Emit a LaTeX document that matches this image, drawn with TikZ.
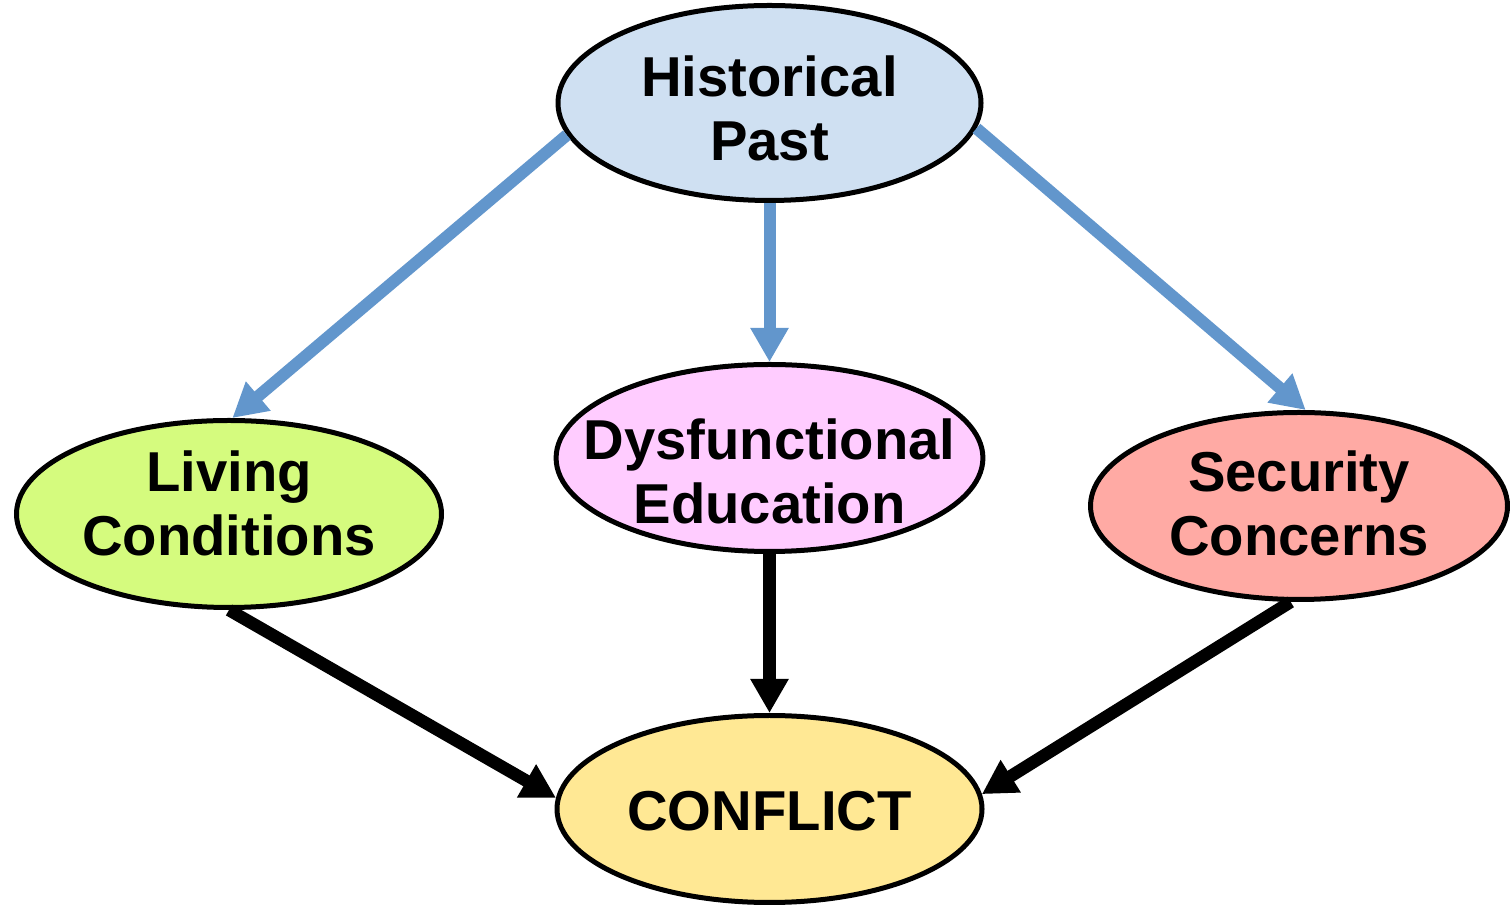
\documentclass[tikz,border=0pt]{standalone}
\usepackage{fontspec}
\setmainfont{Liberation Sans}
\usetikzlibrary{shapes.geometric,arrows.meta}

\definecolor{histblue}{RGB}{207,224,242}
\definecolor{livgreen}{RGB}{213,251,126}
\definecolor{dyspink}{RGB}{255,204,255}
\definecolor{secred}{RGB}{255,170,164}
\definecolor{confyellow}{RGB}{255,232,148}
\definecolor{arrowblue}{RGB}{98,150,204}

% text of an ellipse, moved up or down by #1
\newcommand{\ellipsetext}[2]{\raisebox{#1}[0pt][0pt]{\begin{tabular}{@{}c@{}}#2\end{tabular}}}

\tikzset{
    factor/.style={draw,
        ellipse,
        line width=0.1cm,
        inner xsep=-0.7cm,
        inner ysep=0pt,
        minimum width=8.5cm,
        minimum height=3.74cm,
        font=\fontsize{32}{36.5}\selectfont\bfseries},
    bluearrow/.style={draw=arrowblue,
        line width=0.24cm,
        -{Triangle[width=0.72cm,length=0.68cm]}},
    blackarrow/.style={draw=black,
        line width=0.25cm,
        -{Triangle[width=0.72cm,length=0.68cm]}}
}

\begin{document}
\begin{tikzpicture}

\useasboundingbox (0,0) rectangle (30.2,18.22);

% Top ellipse
\node[factor,
    fill=histblue,
    minimum width=8.46cm,
    minimum height=3.9cm] (hist) at (15.39,16.16){\ellipsetext{-0.47cm}{Historical\\Past}};

% Middle row of ellipses
\node[factor,
    fill=livgreen] (living) at (4.58,7.94){\ellipsetext{-0.15cm}{Living\\Conditions}};

\node[factor,
    fill=dyspink] (dys) at (15.39,9.06){\ellipsetext{-0.63cm}{Dysfunctional\\Education}};

\node[factor,
    fill=secred,
    minimum width=8.34cm] (sec) at (25.98,8.1){\ellipsetext{-0.31cm}{Security\\Concerns}};

% Bottom ellipse
\node[factor,
    fill=confyellow] (conflict) at (15.39,2.04){\ellipsetext{-0.4cm}{CONFLICT}};

% Blue arrows from the top
\draw[bluearrow] (hist.189) -- (living.88);
\draw[bluearrow] (hist.south) -- (dys.north);
\draw[bluearrow] (hist.353) -- (sec.86);

% Black arrows to the bottom
\draw[blackarrow] (living.south) -- (conflict.177);
\draw[blackarrow] (dys.south) -- (conflict.north);
\draw[blackarrow] (sec.265) -- (conflict.4);

\end{tikzpicture}
\end{document}
